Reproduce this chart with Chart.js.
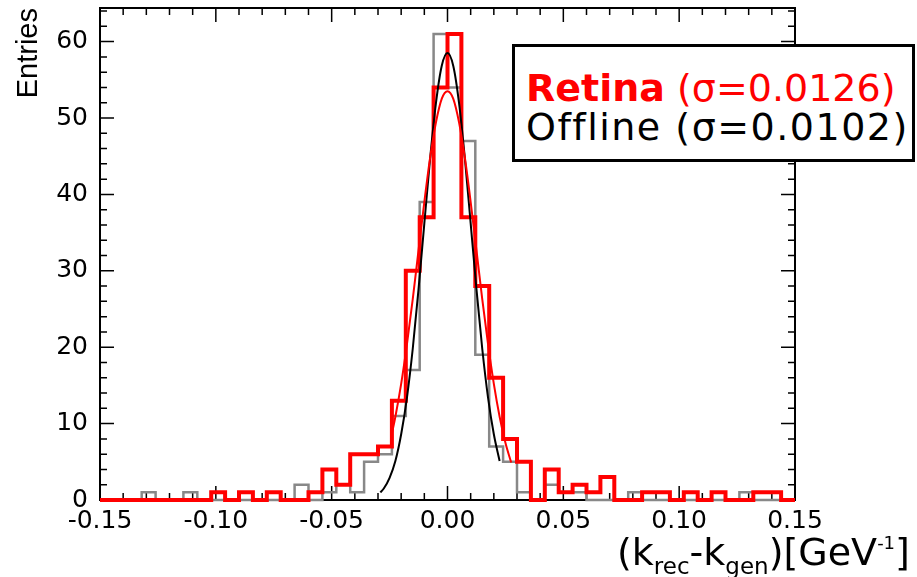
<!DOCTYPE html>
<html>
<head>
<meta charset="utf-8">
<script src="https://cdn.jsdelivr.net/npm/chart.js@4.4.1/dist/chart.umd.min.js"></script>
<style>
  html, body { margin: 0; padding: 0; background: #fff; }
  #wrap { position: relative; width: 917px; height: 577px; }
  #legend {
    position: absolute; left: 512px; top: 44px; width: 403px; height: 118px;
    border: 3px solid #000; background: #fff; box-sizing: border-box;
    font-family: "DejaVu Sans", sans-serif; font-size: 38px; white-space: nowrap;
  }
  #legend div { position: absolute; left: 11px; line-height: 40px; }
  #xtitle {
    position: absolute; left: 617px; top: 532px; line-height: 40px;
    font-family: "DejaVu Sans", sans-serif; font-size: 38px; white-space: nowrap;
  }
  #xtitle .sub { font-size: 23px; position: relative; top: 9px; }
  #xtitle .sup { font-size: 18px; position: relative; top: -16px; }
</style>
</head>
<body>
<div id="wrap">
  <canvas id="chart1"></canvas>
  <div id="legend">
    <div style="top: 21px; color: #ff0000;"><b>Retina</b> (σ=0.0126)</div>
    <div style="top: 60px; color: #000; letter-spacing: 1.5px;">Offline (σ=0.0102)</div>
  </div>
  <div id="xtitle">(k<span class="sub">rec</span>-k<span class="sub">gen</span>)[GeV<span class="sup">-1</span>]</div>
</div>
<script>
  // histogram binning
  const xMin = -0.15;
  const binWidth = 0.006;
  const retinaCounts = [0, 0, 0, 0, 0, 0, 0, 0, 1, 0,
                        1, 0, 1, 0, 0, 1, 4, 2, 6, 6,
                        7, 13, 30, 37, 54, 61, 37, 28, 16, 8,
                        5, 0, 4, 1, 2, 1, 3, 0, 0, 1,
                        1, 0, 1, 0, 1, 0, 0, 1, 1, 0];
  const offlineCounts = [0, 0, 0, 1, 0, 0, 1, 0, 0, 0,
                         0, 0, 0, 0, 2, 0, 1, 2, 1, 5,
                         6, 11, 17, 39, 61, 54, 47, 19, 7, 5,
                         1, 0, 2, 1, 1, 0, 0, 0, 1, 0,
                         0, 0, 0, 0, 0, 0, 1, 0, 0, 0];

  // gaussian fit curves
  const retinaFitX = [-0.024, -0.0225, -0.02, -0.0175, -0.015, -0.0125, -0.01, -0.0075, -0.005, -0.0025, 0,
                      0.0025, 0.005, 0.0075, 0.01, 0.0125, 0.015, 0.0175, 0.02, 0.0225, 0.025, 0.0275];
  const retinaFitY = [8.7, 10.9, 15.2, 20.4, 26.3, 32.7, 39.0, 44.8, 49.4, 52.5, 53.5,
                      52.5, 49.4, 44.8, 39.0, 32.7, 26.3, 20.4, 15.2, 10.9, 7.5, 4.9];
  const offlineFitX = [-0.029, -0.0275, -0.025, -0.0225, -0.02, -0.0175, -0.015, -0.0125, -0.01, -0.0075, -0.005, -0.0025, 0,
                       0.0025, 0.005, 0.0075, 0.01, 0.0125, 0.015, 0.0175, 0.02, 0.0225];
  const offlineFitY = [1.0, 1.5, 2.9, 5.1, 8.6, 13.4, 19.8, 27.6, 36.2, 44.7, 51.9, 56.8, 58.5,
                       56.8, 51.9, 44.7, 36.2, 27.6, 19.8, 13.4, 8.6, 5.1];

  const xTicks = [-0.15, -0.10, -0.05, 0.00, 0.05, 0.10, 0.15];
  const yTicks = [0, 10, 20, 30, 40, 50, 60];

  function histPoints(counts) {
    const pts = counts.map((c, i) => ({ x: xMin + i * binWidth, y: c }));
    pts.push({ x: xMin + counts.length * binWidth, y: counts[counts.length - 1] });
    return pts;
  }
  function curvePoints(xs, ys) {
    return xs.map((x, i) => ({ x: x, y: ys[i] }));
  }

  // ROOT style frame with inward ticks on all four sides
  const frameTicks = {
    id: 'frameTicks',
    beforeDatasetsDraw(chart) {
      const { ctx, chartArea: a, scales: { x, y } } = chart;
      ctx.save();
      ctx.strokeStyle = '#000';
      ctx.lineWidth = 1.5;
      ctx.beginPath();
      for (let i = -15; i <= 15; i++) {
        const px = x.getPixelForValue(i / 100);
        const len = i % 5 === 0 ? 14 : 7;
        ctx.moveTo(px, a.bottom); ctx.lineTo(px, a.bottom - len);
        ctx.moveTo(px, a.top); ctx.lineTo(px, a.top + len);
      }
      for (let v = 0; v <= 64; v += 2) {
        const py = y.getPixelForValue(v);
        const len = v % 10 === 0 ? 14 : 7;
        ctx.moveTo(a.left, py); ctx.lineTo(a.left + len, py);
        ctx.moveTo(a.right, py); ctx.lineTo(a.right - len, py);
      }
      ctx.stroke();
      ctx.lineWidth = 2;
      ctx.strokeRect(a.left, a.top, a.right - a.left, a.bottom - a.top);
      ctx.restore();
    }
  };

  const ctx1 = document.getElementById('chart1').getContext('2d');
  const chart1 = new Chart(ctx1, {
    type: 'line',
    data: {
      datasets: [{
        label: 'Retina fit',
        data: curvePoints(retinaFitX, retinaFitY),
        borderColor: '#ff0000',
        borderWidth: 2,
        pointRadius: 0,
        cubicInterpolationMode: 'monotone'
      }, {
        label: 'Offline fit',
        data: curvePoints(offlineFitX, offlineFitY),
        borderColor: '#000',
        borderWidth: 2,
        pointRadius: 0,
        cubicInterpolationMode: 'monotone'
      }, {
        label: 'Retina',
        data: histPoints(retinaCounts),
        borderColor: '#ff0000',
        borderWidth: 4,
        pointRadius: 0,
        stepped: true,
        clip: 6
      }, {
        label: 'Offline',
        data: histPoints(offlineCounts),
        borderColor: '#888888',
        borderWidth: 2.5,
        pointRadius: 0,
        stepped: true,
        clip: 6
      }]
    },
    options: {
      responsive: true,
      maintainAspectRatio: false,
      animation: false,
      layout: { padding: { left: 0, right: 122, top: 8, bottom: 0 } },
      plugins: { legend: { display: false }, tooltip: { enabled: false } },
      scales: {
        x: {
          type: 'linear', min: -0.15, max: 0.15,
          grid: { display: false, drawTicks: false },
          border: { display: false },
          afterBuildTicks: s => { s.ticks = xTicks.map(v => ({ value: v })); },
          afterFit: s => { s.height = 77; s.paddingLeft = 0; s.paddingRight = 0; },
          ticks: {
            padding: 6, color: '#000', maxRotation: 0, autoSkip: false,
            font: { family: 'DejaVu Sans', size: 25 },
            callback: v => v.toFixed(2)
          }
        },
        y: {
          type: 'linear', min: 0, max: 64.4,
          grid: { display: false, drawTicks: false },
          border: { display: false },
          afterBuildTicks: s => { s.ticks = yTicks.map(v => ({ value: v })); },
          afterFit: s => { s.width = 100; s.paddingTop = 0; s.paddingBottom = 0; },
          ticks: {
            padding: 12, color: '#000',
            font: { family: 'DejaVu Sans', size: 25 }
          },
          title: {
            display: true, text: 'Entries', align: 'end', color: '#000',
            padding: { top: 12, bottom: 0 },
            font: { family: 'Liberation Sans', size: 29 }
          }
        }
      }
    },
    plugins: [frameTicks]
  });
</script>
</body>
</html>
